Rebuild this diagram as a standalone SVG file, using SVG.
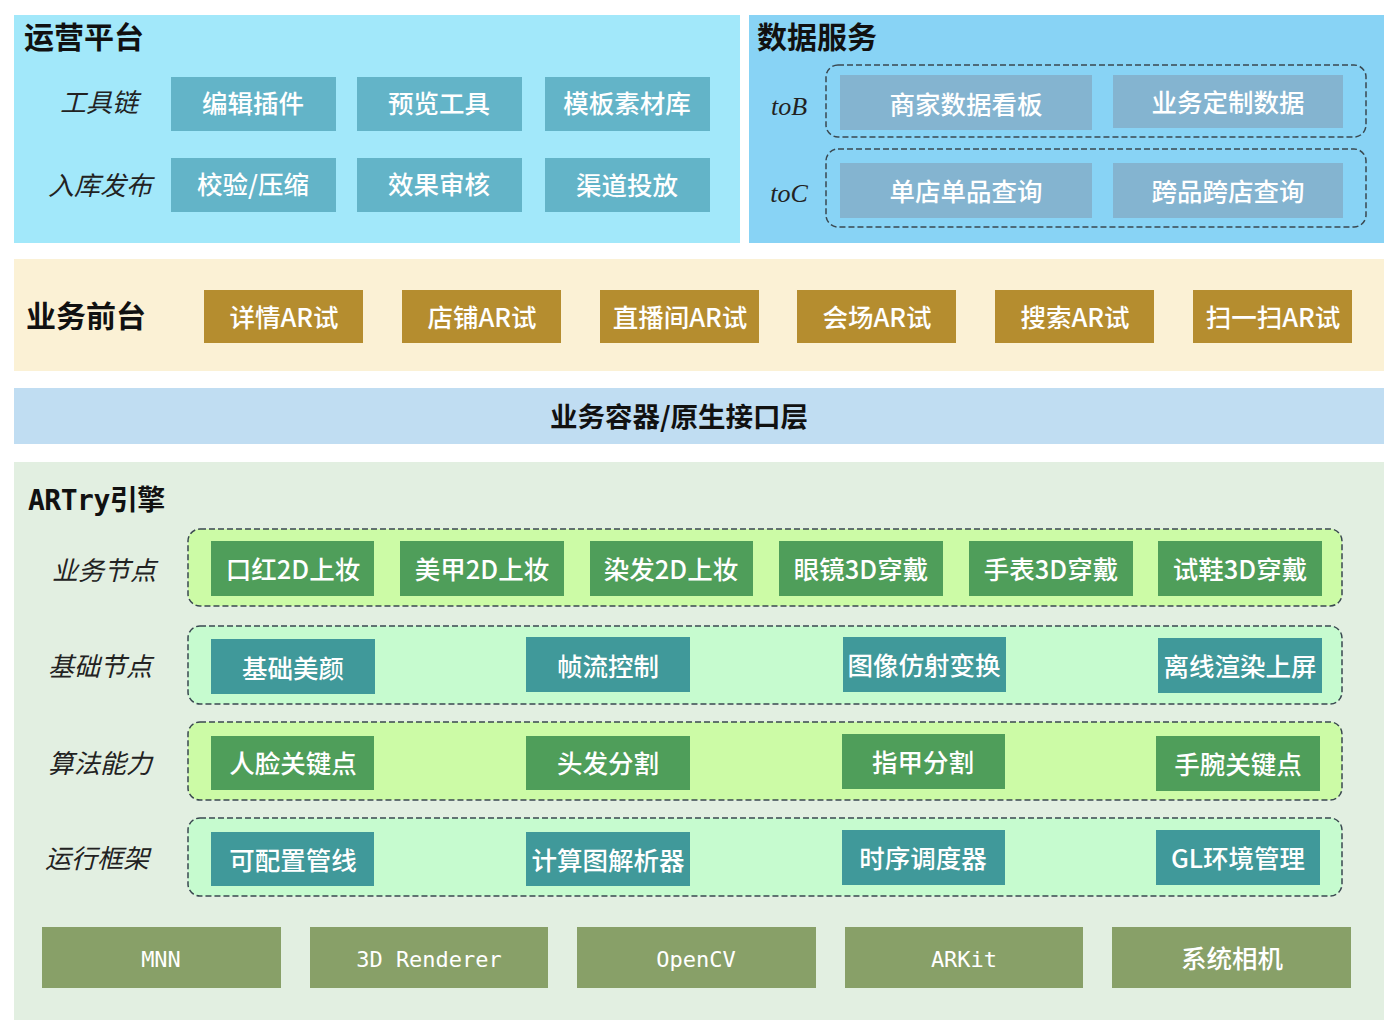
<svg xmlns="http://www.w3.org/2000/svg" width="1400" height="1033" viewBox="0 0 1400 1033">
<style>
.title{font-family:"Noto Sans CJK SC",sans-serif;font-weight:700;fill:#111}
.lab{font-family:"Noto Sans CJK SC",sans-serif;font-style:italic;font-size:26px;fill:#222;text-anchor:middle}
.latlab{font-family:"Liberation Serif","Noto Sans CJK SC",serif;font-style:italic;font-size:26px;fill:#222;text-anchor:middle}
.bt{font-family:"Noto Sans CJK SC",sans-serif;font-weight:500;font-size:25.5px;fill:#fff;text-anchor:middle}
.mono{font-family:"DejaVu Sans Mono","Noto Sans CJK SC",monospace;font-size:22px;fill:#fff;text-anchor:middle}
.tl{fill:#63b4c8}
.tr{fill:#84b4d0}
.gold{fill:#b58d2f}
.grn{fill:#4f9e5a}
.teal{fill:#40999a}
.olive{fill:#88a068}
.dash{stroke:#3a4850;stroke-width:1.5;stroke-dasharray:6 3}
</style>

<!-- panels -->
<g id="panel-ops">
<rect x="14" y="15" width="726" height="228" fill="#a2e8fa"/>
<text class="title" x="24" y="48" font-size="30">运营平台</text>
<text class="lab" x="99" y="112">工具链</text>
<text class="lab" x="100" y="195">入库发布</text>
</g>
<g id="panel-data">
<rect x="749" y="15" width="635" height="228" fill="#88d3f5"/>
<text class="title" x="757" y="48" font-size="30">数据服务</text>
<text class="latlab" x="789" y="115">toB</text>
<text class="latlab" x="789" y="202">toC</text>
<rect x="826" y="65" width="540" height="72" rx="12" fill="none" class="dash"/>
<rect x="826" y="149" width="540" height="78" rx="12" fill="none" class="dash"/>
</g>
<g id="panel-front">
<rect x="14" y="259" width="1370" height="112" fill="#fbf1d5"/>
<text class="title" x="26" y="327" font-size="30">业务前台</text>
</g>
<g id="panel-container">
<rect x="14" y="388" width="1370" height="56" fill="#c0ddf2"/>
<text class="title" x="679" y="427" font-size="27.5" text-anchor="middle" font-weight="600">业务容器/原生接口层</text>
</g>
<g id="panel-engine">
<rect x="14" y="462" width="1370" height="558" fill="#e2efe1"/>
<text x="28" y="510" font-size="28" font-weight="700" fill="#111" font-family="DejaVu Sans Mono,Noto Sans CJK SC,monospace" letter-spacing="-0.5">ARTry引擎</text>
<text class="lab" x="104" y="580">业务节点</text>
<text class="lab" x="100" y="676">基础节点</text>
<text class="lab" x="100" y="773">算法能力</text>
<text class="lab" x="97" y="868">运行框架</text>
<rect x="188" y="529" width="1154" height="77" rx="12" fill="#ccfba6" class="dash"/>
<rect x="188" y="626" width="1154" height="78" rx="12" fill="#c6fbcf" class="dash"/>
<rect x="188" y="722" width="1154" height="78" rx="12" fill="#ccfba6" class="dash"/>
<rect x="188" y="818" width="1154" height="78" rx="12" fill="#c6fbcf" class="dash"/>
</g>

<!-- ops nodes -->
<g id="n-bjcj"><rect class="tl" x="171" y="77" width="165" height="54"/><text class="bt" x="253" y="113">编辑插件</text></g>
<g id="n-ylgj"><rect class="tl" x="357" y="77" width="165" height="54"/><text class="bt" x="439" y="113">预览工具</text></g>
<g id="n-mbsck"><rect class="tl" x="545" y="77" width="165" height="54"/><text class="bt" x="627" y="113">模板素材库</text></g>
<g id="n-jyys"><rect class="tl" x="171" y="158" width="165" height="54"/><text class="bt" x="253" y="194">校验/压缩</text></g>
<g id="n-xgsh"><rect class="tl" x="357" y="158" width="165" height="54"/><text class="bt" x="439" y="194">效果审核</text></g>
<g id="n-qdtf"><rect class="tl" x="545" y="158" width="165" height="54"/><text class="bt" x="627" y="195">渠道投放</text></g>

<!-- data nodes -->
<g id="n-sjkb"><rect class="tr" x="840" y="75" width="252" height="55"/><text class="bt" x="966" y="114">商家数据看板</text></g>
<g id="n-dzsj"><rect class="tr" x="1113" y="75" width="230" height="53"/><text class="bt" x="1228" y="112">业务定制数据</text></g>
<g id="n-dddp"><rect class="tr" x="840" y="163" width="252" height="55"/><text class="bt" x="966" y="201">单店单品查询</text></g>
<g id="n-kpkd"><rect class="tr" x="1113" y="163" width="230" height="55"/><text class="bt" x="1228" y="201">跨品跨店查询</text></g>

<!-- front nodes -->
<g id="n-xq"><rect class="gold" x="204" y="290" width="159" height="53"/><text class="bt" x="284" y="327">详情AR试</text></g>
<g id="n-dp"><rect class="gold" x="402" y="290" width="159" height="53"/><text class="bt" x="482" y="327">店铺AR试</text></g>
<g id="n-zbj"><rect class="gold" x="600" y="290" width="159" height="53"/><text class="bt" x="680" y="327">直播间AR试</text></g>
<g id="n-hc"><rect class="gold" x="797" y="290" width="159" height="53"/><text class="bt" x="877" y="327">会场AR试</text></g>
<g id="n-ss"><rect class="gold" x="995" y="290" width="159" height="53"/><text class="bt" x="1075" y="327">搜索AR试</text></g>
<g id="n-sys"><rect class="gold" x="1193" y="290" width="159" height="53"/><text class="bt" x="1273" y="327">扫一扫AR试</text></g>

<!-- engine: business nodes -->
<g id="n-kh"><rect class="grn" x="211" y="541" width="163" height="55"/><text class="bt" x="293" y="579">口红2D上妆</text></g>
<g id="n-mj"><rect class="grn" x="400" y="541" width="164" height="55"/><text class="bt" x="482" y="579">美甲2D上妆</text></g>
<g id="n-rf"><rect class="grn" x="590" y="541" width="163" height="55"/><text class="bt" x="671" y="579">染发2D上妆</text></g>
<g id="n-yj"><rect class="grn" x="779" y="541" width="164" height="55"/><text class="bt" x="861" y="579">眼镜3D穿戴</text></g>
<g id="n-sb"><rect class="grn" x="969" y="541" width="164" height="55"/><text class="bt" x="1051" y="579">手表3D穿戴</text></g>
<g id="n-sx"><rect class="grn" x="1158" y="541" width="164" height="55"/><text class="bt" x="1240" y="579">试鞋3D穿戴</text></g>

<!-- base nodes -->
<g id="n-jcmy"><rect class="teal" x="211" y="639" width="164" height="55"/><text class="bt" x="293" y="678">基础美颜</text></g>
<g id="n-zlkz"><rect class="teal" x="526" y="637" width="164" height="55"/><text class="bt" x="608" y="676">帧流控制</text></g>
<g id="n-txfs"><rect class="teal" x="843" y="637" width="163" height="55"/><text class="bt" x="924" y="675">图像仿射变换</text></g>
<g id="n-lxxr"><rect class="teal" x="1158" y="638" width="164" height="55"/><text class="bt" x="1240" y="676">离线渲染上屏</text></g>

<!-- algorithm nodes -->
<g id="n-rlgj"><rect class="grn" x="211" y="736" width="163" height="54"/><text class="bt" x="293" y="773">人脸关键点</text></g>
<g id="n-tffg"><rect class="grn" x="526" y="736" width="164" height="54"/><text class="bt" x="608" y="773">头发分割</text></g>
<g id="n-zjfg"><rect class="grn" x="842" y="734" width="163" height="55"/><text class="bt" x="923" y="772">指甲分割</text></g>
<g id="n-swgj"><rect class="grn" x="1156" y="736" width="164" height="55"/><text class="bt" x="1238" y="774">手腕关键点</text></g>

<!-- runtime nodes -->
<g id="n-kpz"><rect class="teal" x="211" y="832" width="163" height="54"/><text class="bt" x="293" y="870">可配置管线</text></g>
<g id="n-jst"><rect class="teal" x="526" y="832" width="164" height="54"/><text class="bt" x="608" y="870">计算图解析器</text></g>
<g id="n-sxdd"><rect class="teal" x="842" y="830" width="163" height="55"/><text class="bt" x="923" y="868">时序调度器</text></g>
<g id="n-gl"><rect class="teal" x="1156" y="830" width="164" height="55"/><text class="bt" x="1238" y="868">GL环境管理</text></g>

<!-- bottom -->
<g id="n-mnn"><rect class="olive" x="42" y="927" width="239" height="61"/><text class="mono" x="161" y="967">MNN</text></g>
<g id="n-3dr"><rect class="olive" x="310" y="927" width="238" height="61"/><text class="mono" x="429" y="967">3D Renderer</text></g>
<g id="n-cv"><rect class="olive" x="577" y="927" width="239" height="61"/><text class="mono" x="696" y="967">OpenCV</text></g>
<g id="n-ark"><rect class="olive" x="845" y="927" width="238" height="61"/><text class="mono" x="964" y="967">ARKit</text></g>
<g id="n-cam"><rect class="olive" x="1112" y="927" width="239" height="61"/><text class="bt" x="1232" y="968">系统相机</text></g>

<g id="connectors"></g>
</svg>
